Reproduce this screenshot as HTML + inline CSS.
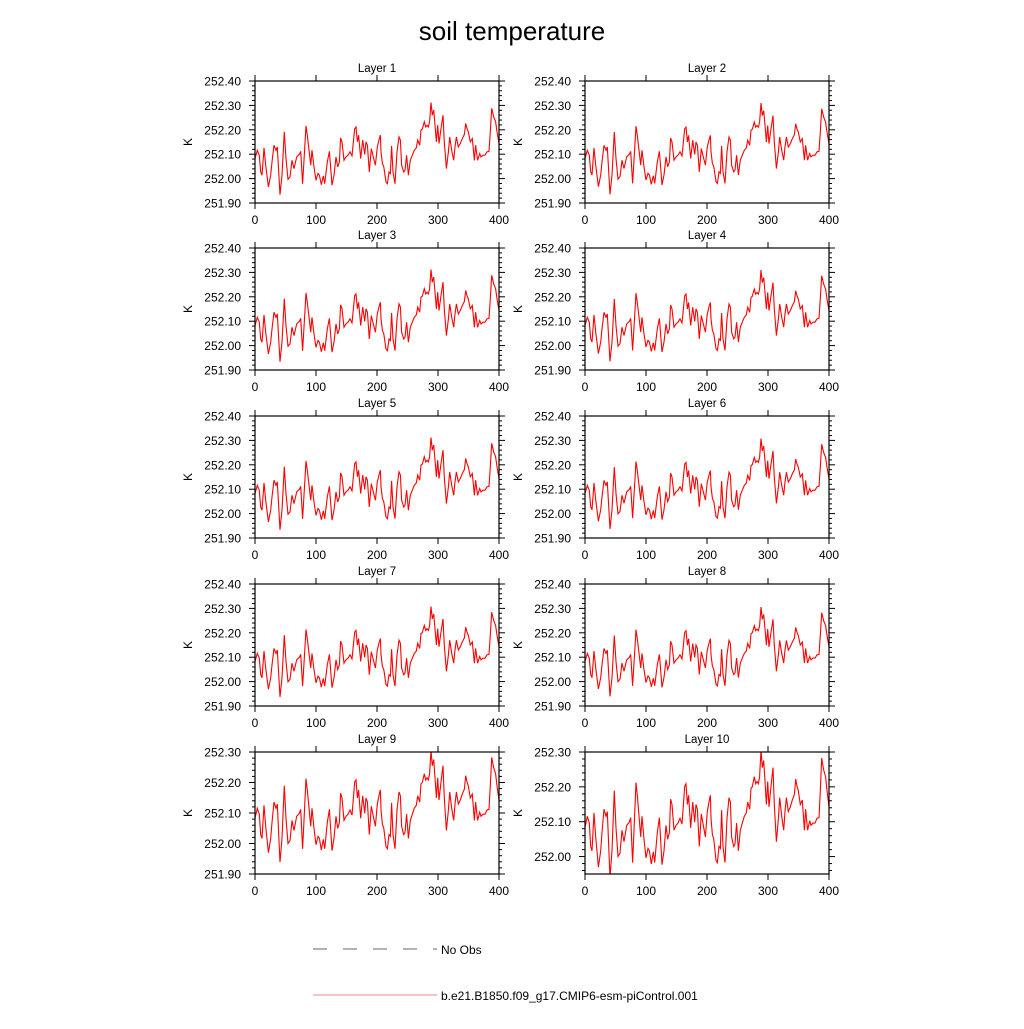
<!DOCTYPE html>
<html><head><meta charset="utf-8"><style>
body{margin:0;background:#fff;}
svg text{font-family:"Liberation Sans",sans-serif;fill:#000;}
</style></head><body>
<svg id="c" width="1024" height="1024" viewBox="0 0 1024 1024" xmlns="http://www.w3.org/2000/svg">
<text x="512" y="40" font-size="26" text-anchor="middle">soil temperature</text>
<g>
<line x1="313" y1="949" x2="437" y2="949" stroke="#666" stroke-width="1" stroke-dasharray="14,16"/>
<text x="441" y="954" font-size="12">No Obs</text>
<line x1="313" y1="995" x2="437" y2="995" stroke="#e88" stroke-width="1"/>
<text x="441" y="1000" font-size="12">b.e21.B1850.f09_g17.CMIP6-esm-piControl.001</text>
</g>
</svg>
<script>
const years=[0,3.8,7.1,9.3,11.5,14.8,17.5,21.9,25.7,27.9,31.1,34.4,36.6,41.0,44.3,48.1,50.8,54.1,57.4,60.7,63.9,68.3,72.7,74.9,78.1,80.9,83.6,85.8,89.1,91.3,93.4,96.7,100,103.3,105.5,108.7,112,114.2,118.6,121.9,126.2,129.5,132.8,135.5,138.3,140.4,142.6,145.9,149.2,152.5,155.7,159,163.4,165.6,167.8,169.9,173.2,176.5,179.8,182,184.2,187.4,190.7,194,197.3,200.5,203.8,205.5,206.6,208.9,211.1,214.8,217,219.7,221.9,224,226.2,229.5,232.8,236.1,238.3,240.4,243.7,245.9,248.6,251.4,254.6,257.9,261.2,264.5,266.7,270,272.1,274.3,277.6,279.8,282,284.2,286.3,288.5,290.7,292.9,295.1,297.3,299.5,301.6,304.9,308.2,310.4,313.7,317,319.1,322.4,325.7,327.9,330.1,333.3,336.6,339.9,343.2,345.4,347.5,349.7,353,356.3,359.6,361.7,365,368.3,370.5,373.8,377,380.3,383.6,385.8,388,391.3,394.5,396.7,400];
const temps=[252.082,252.116,252.096,252.027,252.014,252.126,252.055,251.966,252.014,252.068,252.137,252.116,252.130,251.934,252.014,252.192,252.082,251.997,252.007,252.075,252.041,252.089,252.099,252.112,251.979,252.096,252.216,252.178,252.103,252.055,252.116,252.048,251.993,252.021,252.014,251.975,252.011,251.979,252.068,252.112,251.973,252.014,252.089,252.048,252.068,252.167,252.151,252.075,252.089,252.096,252.110,252.093,252.205,252.212,252.151,252.178,252.082,252.158,252.099,252.151,252.137,252.027,252.123,252.089,252.055,252.130,252.164,252.178,252.110,252.062,252.048,251.986,251.979,252.027,252.021,252.134,252.027,251.979,252.110,252.171,252.158,252.055,252.027,252.034,252.096,252.014,252.075,252.096,252.116,252.126,252.158,252.137,252.199,252.203,252.233,252.212,252.219,252.212,252.233,252.312,252.260,252.281,252.219,252.151,252.219,252.144,252.205,252.260,252.151,252.041,252.110,252.171,252.116,252.075,252.130,252.171,252.130,252.144,252.164,252.181,252.226,252.205,252.192,252.151,252.164,252.075,252.137,252.075,252.103,252.089,252.096,252.096,252.110,252.112,252.192,252.288,252.253,252.233,252.192,252.144];
const layerNames=["Layer 1","Layer 2","Layer 3","Layer 4","Layer 5","Layer 6","Layer 7","Layer 8","Layer 9","Layer 10"];
const layerAmp=[1,0.99,1,0.99,1,0.98,0.98,0.97,0.97,0.97];
const yMax=[252.40,252.40,252.40,252.40,252.40,252.40,252.40,252.40,252.30,252.30];
const yMin=[251.90,251.90,251.90,251.90,251.90,251.90,251.90,251.90,251.90,251.95];
const xTicks=[0,100,200,300,400];
const NS="http://www.w3.org/2000/svg";
const svg=document.getElementById('c');
function mk(tag,attrs,parent){const e=document.createElementNS(NS,tag);for(const k in attrs)e.setAttribute(k,attrs[k]);parent.appendChild(e);return e;}
const colsX=[255,585], W=244, rowsY=[81,248,416,584,752], H=122;
const mean=252.1;
layerNames.forEach((name,i)=>{
  const x0=colsX[i%2], y0=rowsY[Math.floor(i/2)];
  const lo=yMin[i], hi=yMax[i];
  const sx=v=>x0+v/400*W, sy=v=>y0+(hi-v)/(hi-lo)*H;
  const g=mk('g',{},svg);
  
  
  const cid='clip'+i;
  const cp=mk('clipPath',{id:cid},g);mk('rect',{x:x0,y:y0,width:W,height:H},cp);
  let d='';
  years.forEach((yr,j)=>{const v=mean+(temps[j]-mean)*layerAmp[i];d+=(j?'L':'M')+sx(yr).toFixed(1)+','+sy(v).toFixed(1);});
  const p=mk('path',{d:d,fill:'none',stroke:'#ff0000','stroke-width':1.1,'clip-path':'url(#'+cid+')'},g);
  
  
  const fr=mk('rect',{x:x0,y:y0,width:W,height:H,fill:'none',stroke:'#000','stroke-width':1.2},g);
  
  
  const t=mk('text',{x:x0+W/2,y:y0-9,'font-size':11.5,'text-anchor':'middle'},g);t.textContent=name;
  
  
  const k=mk('text',{x:0,y:0,'font-size':12,'text-anchor':'middle',transform:'translate('+(x0-63)+','+(y0+H/2)+') rotate(-90)'},g);k.textContent='K';
  
  
  xTicks.forEach(v=>{const x=sx(v);
    mk('line',{x1:x,x2:x,y1:y0+H,y2:y0+H+6,stroke:'#000'},g);
    mk('line',{x1:x,x2:x,y1:y0,y2:y0-6,stroke:'#000'},g);
    const l=mk('text',{x:x,y:y0+H+21,'font-size':12,'text-anchor':'middle'},g);l.textContent=v;
    
    
  });
  const mStart=Math.ceil(Math.round(lo*1000)/20)*2, mEnd=Math.round(hi*100);
  for(let m=mStart;m<=mEnd;m+=2){
    const v=m/100,y=sy(v),major=m%10===0,len=major?6:3;
    mk('line',{x1:x0,x2:x0-len,y1:y,y2:y,stroke:'#000'},g);
    mk('line',{x1:x0+W,x2:x0+W+len,y1:y,y2:y,stroke:'#000'},g);
    if(major){const l=mk('text',{x:x0-14,y:y+4.5,'font-size':12,'text-anchor':'end'},g);l.textContent=v.toFixed(2);
      
      }
  }
});
</script>
</body></html>
